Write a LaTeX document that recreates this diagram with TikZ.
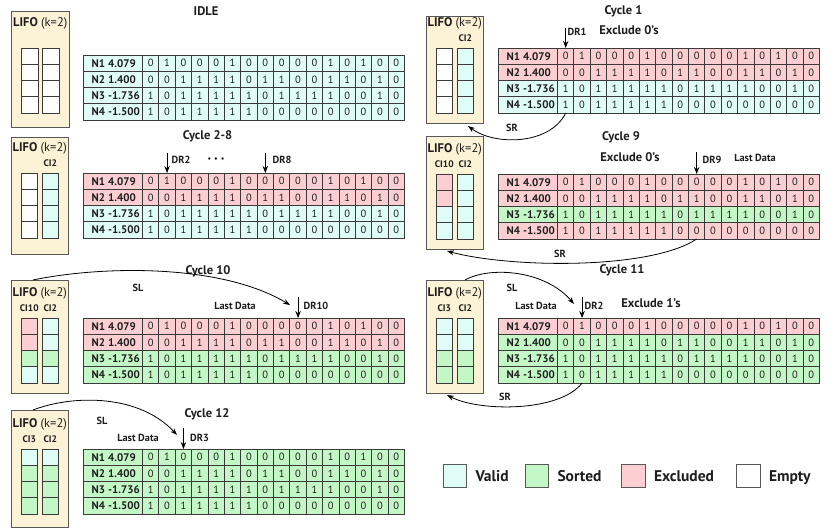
\documentclass[tikz,border=0pt]{standalone}
\usepackage{fontspec}
\setmainfont{PT Sans}
\usetikzlibrary{arrows.meta,calc}

\definecolor{cv}{HTML}{E0FCF6}
\definecolor{cs}{HTML}{C3F7C6}
\definecolor{ce}{HTML}{FBCFD2}
\definecolor{cw}{HTML}{FFFFFF}
\definecolor{lifobg}{HTML}{FCF2D6}
\definecolor{ln}{HTML}{3A3A3A}
\definecolor{tx}{HTML}{1E1E1E}

\tikzset{
  cell/.style={draw=ln, line width=0.8pt, minimum width=16.375pt, minimum height=16.25pt,
    inner sep=0pt, outer sep=0pt, text=tx, font=\fontsize{10.5}{11}\selectfont},
  labcell/.style={cell, minimum width=59.5pt},
  rowname/.style={inner sep=0pt, text=tx, anchor=base west, font=\bfseries\fontsize{11}{12}\selectfont},
  lifobox/.style={draw=ln!85, line width=1pt, fill=lifobg, minimum width=57.5pt,
    inner sep=0pt, outer sep=0pt},
  lcell/.style={draw=ln, line width=0.9pt, minimum width=16.5pt, minimum height=16.25pt,
    inner sep=0pt, outer sep=0pt},
  lifotitle/.style={inner sep=0pt, text=tx, font=\fontsize{12.5}{13}\selectfont},
  cilab/.style={inner sep=0pt, text=tx, font=\bfseries\fontsize{9.5}{10}\selectfont},
  ttl/.style={inner sep=0pt, text=tx, font=\bfseries\fontsize{12.5}{13}\selectfont},
  sm/.style={inner sep=0pt, text=tx, font=\bfseries\fontsize{10.3}{11}\selectfont},
  arr/.style={-{Stealth[length=7pt,width=5pt]}, line width=0.8pt, black},
  drarr/.style={-{Stealth[length=7pt,width=5.5pt]}, line width=1pt, black},
  legbox/.style={draw=ln!85, line width=1.1pt, minimum size=23.5pt, inner sep=0pt},
  legtxt/.style={inner sep=0pt, text=tx, anchor=base west, font=\bfseries\fontsize{15.5}{16}\selectfont}
}

% #1 name, #2 left x, #3 top y, #4-#7 row colours
\newcommand\bittable[7]{%
  \foreach \r/\rc/\nn/\vv/\bits in {%
    1/#4/N1/4.079/{0,1,0,0,0,1,0,0,0,0,0,1,0,1,0,0},
    2/#5/N2/1.400/{0,0,1,1,1,1,0,1,1,0,0,1,1,0,1,0},
    3/#6/N3/-1.736/{1,0,1,1,1,1,1,0,1,1,1,1,0,0,1,0},
    4/#7/N4/-1.500/{1,0,1,1,1,1,1,0,0,0,0,0,0,0,0,0}}{%
    \node[labcell, fill=\rc, anchor=north west] (#1-r\r-c0) at (#2, {#3+(\r-1)*16.25}) {};
    \node[rowname] (#1-n\r) at ($(#1-r\r-c0.west)+(8.5,3.9)$) {\nn};
    \node[rowname] (#1-v\r) at ($(#1-r\r-c0.west)+(25,3.9)$) {\vv};
    \foreach \b [count=\c] in \bits {%
      \node[cell, fill=\rc, anchor=north west] (#1-r\r-c\c) at ({#2+59.5+(\c-1)*16.375}, {#3+(\r-1)*16.25}) {\b};
    }
  }
}

% #1 name, #2 left x, #3 box top, #4 box bottom, #5 cells top, #6 col1 colours, #7 col2 colours
\newcommand\lifo[7]{%
  \node[lifobox, anchor=north west, minimum height={(#4-#3)*1pt}] (#1) at (#2,#3) {};
  \node[lifotitle] (#1-t) at ({#2+28.75}, {#5-25}) {\textbf{LIFO} (k=2)};
  \foreach \cc [count=\i] in {#6} {%
    \node[lcell, fill=\cc, anchor=north west] (#1-a\i) at ({#2+10}, {#5+(\i-1)*16.25}) {};
  }
  \foreach \cc [count=\i] in {#7} {%
    \node[lcell, fill=\cc, anchor=north west] (#1-b\i) at ({#2+31}, {#5+(\i-1)*16.25}) {};
  }
}

\begin{document}
\begin{tikzpicture}[x=1pt, y=-1pt]
\useasboundingbox (0,0) rectangle (831,532);
\fill[white] (0,0) rectangle (831,532);

% ---------------- IDLE ----------------
\lifo{b0}{11.5}{12}{128}{48}{cw,cw,cw,cw}{cw,cw,cw,cw}
\bittable{t0}{83}{55}{cv}{cv}{cv}{cv}
\node[ttl] (h0) at (206,11) {IDLE};

% ---------------- Cycle 1 ----------------
\lifo{b1}{426}{17}{124}{48}{cw,cw,cw,cw}{cv,cv,cv,cv}
\node[cilab] (b1-cb) at (b1-b1.north) [yshift=10pt] {CI2};
\bittable{t1}{498}{48}{ce}{ce}{cv}{cv}
\node[ttl] (h1) at (623.5,11) {Cycle 1};
\coordinate (d1) at ($(t1-r1-c1.north)+(0,-20)$);
\draw[drarr] (d1) -- (t1-r1-c1.north);
\node[sm] (d1l) at (577,32) {DR1};
\node[ttl] (x1) at (629,30) {Exclude 0’s};
\coordinate (s1e) at ($(b1.south west)+(42,2)$);
\draw[arr] (t1-r4-c1.south) .. controls (550,145) and (495,146) .. (s1e);
\node[sm] (s1l) at (512,128) {SR};

% ---------------- Cycle 2-8 ----------------
\lifo{b28}{11}{138}{255}{173}{cw,cw,cw,cw}{cv,cv,cv,cv}
\node[cilab] (b28-cb) at (b28-b1.north) [yshift=10pt] {CI2};
\bittable{t28}{83}{173}{ce}{ce}{cv}{cv}
\node[ttl] (h28) at (207.5,136) {Cycle 2-8};
\coordinate (d2) at ($(t28-r1-c2.north)+(0,-20)$);
\draw[drarr] (d2) -- (t28-r1-c2.north);
\node[sm] (d2l) at (181,160) {DR2};
\node[inner sep=0pt, font=\fontsize{8}{9}\selectfont] (dots) at (216,160) {•\hspace{3pt}•\hspace{3pt}•};
\coordinate (d8) at ($(t28-r1-c8.north)+(0,-20)$);
\draw[drarr] (d8) -- (t28-r1-c8.north);
\node[sm] (d8l) at (282,160) {DR8};

% ---------------- Cycle 9 ----------------
\lifo{b9}{426}{137}{250}{174}{ce,ce,cv,cv}{cv,cv,cv,cv}
\node[cilab] (b9-ca) at (b9-a1.north) [yshift=10pt] {CI10};
\node[cilab] (b9-cb) at (b9-b1.north) [yshift=10pt] {CI2};
\bittable{t9}{498}{174}{ce}{ce}{cs}{ce}
\node[ttl] (h9) at (621,137.5) {Cycle 9};
\node[ttl] (x9) at (630,157) {Exclude 0’s};
\coordinate (d9) at ($(t9-r1-c9.north)+(0,-22)$);
\draw[drarr] (d9) -- (t9-r1-c9.north);
\node[sm] (d9l) at (712,160) {DR9};
\node[sm] (ld9) at (755,158) {Last Data};
\coordinate (s9e) at ($(b9.south west)+(21,1)$);
\draw[arr] (t9-r4-c9.south) .. controls (650,270) and (510,268) .. (s9e);
\node[sm] (s9l) at (560,254) {SR};

% ---------------- Cycle 10 ----------------
\lifo{b10}{11}{280}{393}{318}{ce,ce,cs,cv}{cv,cv,cs,cv}
\node[cilab] (b10-ca) at (b10-a1.north) [yshift=10pt] {CI10};
\node[cilab] (b10-cb) at (b10-b1.north) [yshift=10pt] {CI2};
\bittable{t10}{83}{318}{ce}{ce}{cs}{cs}
\node[ttl] (h10) at (208,271) {Cycle 10};
\coordinate (d10) at ($(t10-r1-c10.north)+(0,-21)$);
\draw[drarr] (d10) -- (t10-r1-c10.north);
\node[sm] (d10l) at (316,306) {DR10};
\node[sm] (ld10) at (235,306) {Last Data};
\coordinate (l10s) at ($(b10.north west)+(22,0)$);
\coordinate (l10e) at (290,305);
\draw[arr] (l10s) .. controls (100,266) and (220,263) .. (l10e);
\node[sm] (l10l) at (138,288) {SL};

% ---------------- Cycle 11 ----------------
\lifo{b11}{426}{280}{393}{318}{cv,cv,cs,cs}{cv,cv,cs,cs}
\node[cilab] (b11-ca) at (b11-a1.north) [yshift=10pt] {CI3};
\node[cilab] (b11-cb) at (b11-b1.north) [yshift=10pt] {CI2};
\bittable{t11}{498}{318}{ce}{cs}{cs}{cs}
\node[ttl] (h11) at (622,270) {Cycle 11};
\coordinate (d11) at ($(t11-r1-c2.north)+(0,-21)$);
\draw[drarr] (d11) -- (t11-r1-c2.north);
\node[sm] (d11l) at (594,306) {DR2};
\node[sm] (ld11) at (536,306) {Last Data};
\node[ttl] (x11) at (651,303) {Exclude 1’s};
\coordinate (l11s) at ($(b11.north west)+(39,0)$);
\coordinate (l11e) at (574,304);
\draw[arr] (l11s) .. controls (490,266) and (545,270) .. (l11e);
\node[sm] (l11l) at (512,288) {SL};
\coordinate (s11e) at ($(b11.south west)+(21,2)$);
\draw[arr] (t11-r4-c2.south) .. controls (560,412) and (480,412) .. (s11e);
\node[sm] (s11l) at (505,397) {SR};

% ---------------- Cycle 12 ----------------
\lifo{b12}{11}{410}{527}{449}{cv,cs,cs,cs}{cv,cs,cs,cs}
\node[cilab] (b12-ca) at (b12-a1.north) [yshift=10pt] {CI3};
\node[cilab] (b12-cb) at (b12-b1.north) [yshift=10pt] {CI2};
\bittable{t12}{83}{449}{cs}{cs}{cs}{cs}
\node[ttl] (h12) at (207,414) {Cycle 12};
\coordinate (d12) at ($(t12-r1-c3.north)+(0,-21)$);
\draw[drarr] (d12) -- (t12-r1-c3.north);
\node[sm] (d12l) at (199.5,438) {DR3};
\node[sm] (ld12) at (138,438) {Last Data};
\coordinate (l12s) at ($(b12.north west)+(22,0)$);
\coordinate (l12e) at (177,435);
\draw[arr] (l12s) .. controls (75,394) and (140,395) .. (l12e);
\node[sm] (l12l) at (102,421) {SL};

% ---------------- Legend ----------------
\node[legbox, fill=cv] (g1) at (455,476) {};
\node[legtxt] (g1t) at ($(g1.east)+(8,5.5)$) {Valid};
\node[legbox, fill=cs] (g2) at (537,476) {};
\node[legtxt] (g2t) at ($(g2.east)+(8,5.5)$) {Sorted};
\node[legbox, fill=ce] (g3) at (633.5,476) {};
\node[legtxt] (g3t) at ($(g3.east)+(8,5.5)$) {Excluded};
\node[legbox, fill=cw] (g4) at (748.5,476) {};
\node[legtxt] (g4t) at ($(g4.east)+(8,5.5)$) {Empty};
\end{tikzpicture}
\end{document}
